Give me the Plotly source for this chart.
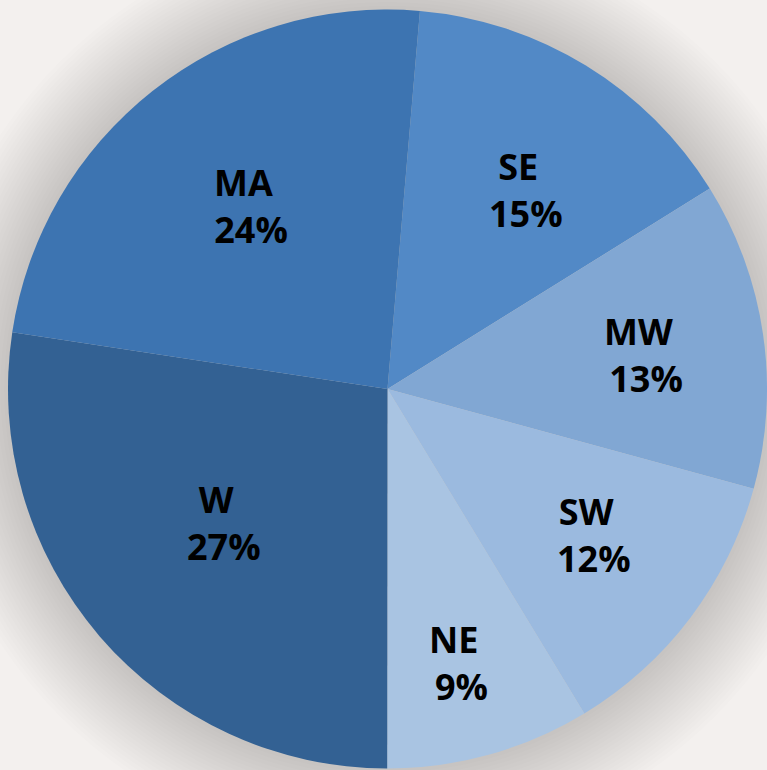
import math
import plotly.graph_objects as go

# ---- data ----
regions = ["SE", "MW", "SW", "NE", "W", "MA"]
shares = [14.8, 13.1, 12.1, 8.7, 27.4, 24.0]
colors = ["#5289c6", "#81a7d3", "#9bbadf", "#a9c4e2", "#336193", "#3d74b1"]

# label placement style: radial fraction and angular nudge (deg)
label_frac = [0.638, 0.686, 0.667, 0.747, 0.558, 0.601]
label_nudge = [3.3, 0.8, -1.75, 0.4, 1.4, 1.5]

W, H = 767, 770
start_deg = 4.9
dom_x = [8 / W, 1.0]
dom_y = [0.0, 1 - 8 / H]

fig = go.Figure(go.Pie(
    labels=regions,
    values=shares,
    sort=False,
    direction="clockwise",
    rotation=start_deg,
    marker=dict(colors=colors, line=dict(width=0)),
    textinfo="none",
    hoverinfo="label+percent",
    showlegend=False,
    domain=dict(x=dom_x, y=dom_y),
))

# pie geometry in pixels
dw = (dom_x[1] - dom_x[0]) * W
dh = (dom_y[1] - dom_y[0]) * H
r = min(dw, dh) / 2
cx = dom_x[0] * W + dw / 2
cy_up = dom_y[0] * H + dh / 2  # from bottom

# soft shadow halo
shapes = []
n_layers = 22
for k in range(1, n_layers + 1):
    rr = r + k * 3.8
    shapes.append(dict(
        type="circle", xref="paper", yref="paper", layer="below",
        x0=(cx - rr) / W, x1=(cx + rr) / W,
        y0=(cy_up - rr) / H, y1=(cy_up + rr) / H,
        fillcolor="rgba(140,134,132,0.015)", line=dict(width=0),
    ))

# labels
total = sum(shares)
annotations = []
cum = 0
for name, v, f, nd in zip(regions, shares, label_frac, label_nudge):
    mid = math.radians(start_deg + (cum + v / 2) / total * 360 + nd)
    cum += v
    px = cx + f * r * math.sin(mid)
    py = cy_up + f * r * math.cos(mid)
    pct = round(v / total * 100)
    annotations.append(dict(
        x=px / W, y=py / H, xref="paper", yref="paper",
        text=f"<b>{name}\u00a0\u2009<br>{pct}%</b>", showarrow=False,
        xanchor="center", yanchor="middle", align="center",
        font=dict(family="Open Sans", size=36, color="#000000"),
    ))

fig.update_layout(
    width=W, height=H,
    margin=dict(l=0, r=0, t=0, b=0),
    paper_bgcolor="#f3f0ee",
    plot_bgcolor="#f3f0ee",
    shapes=shapes,
    annotations=annotations,
)

fig.write_html(
    "out.html",
    config={"displayModeBar": False},
    post_script="document.body.style.margin='0';document.body.style.overflow='hidden';"
                "document.body.style.background='#f3f0ee';",
)
